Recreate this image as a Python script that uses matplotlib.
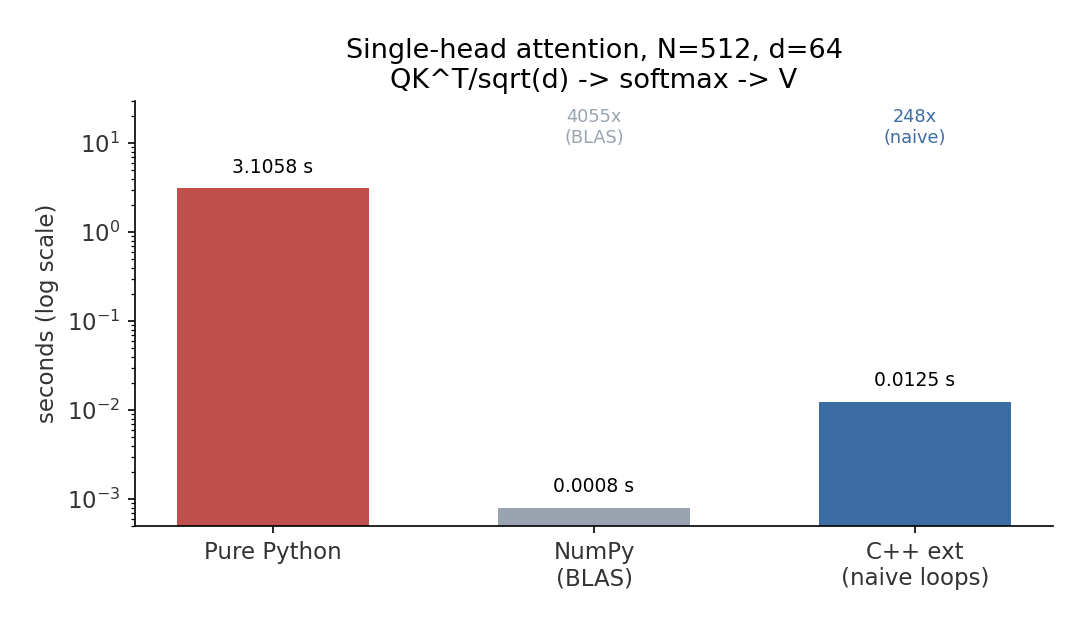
import matplotlib
matplotlib.use("Agg")
import matplotlib.pyplot as plt

labels = ["Pure Python", "NumPy\n(BLAS)", "C++ ext\n(naive loops)"]
seconds = [3.1058, 0.0008, 0.0125]
colors = ["#bf504b", "#99a4b0", "#3b6da3"]
speedup_labels = ["", "4055x\n(BLAS)", "248x\n(naive)"]
speedup_colors = ["", "#99a4b0", "#3b6da3"]

fig, ax = plt.subplots(figsize=(7.2, 4.2), dpi=150)
x = range(len(labels))
ax.bar(x, seconds, width=0.6, color=colors)
ax.set_yscale("log")
ax.set_ylim(5e-4, 30)

for i, s in enumerate(seconds):
    ax.text(i, s * 1.35, f"{s:.4f} s", ha="center", va="bottom", fontsize=9)
for i, (t, c) in enumerate(zip(speedup_labels, speedup_colors)):
    if t:
        ax.text(i, 15, t, ha="center", va="center", fontsize=8.5, color=c)

ax.set_xticks(list(x))
ax.set_xticklabels(labels, fontsize=11, color="#333333")
ax.tick_params(axis="y", labelsize=11, labelcolor="#333333")
ax.set_ylabel("seconds (log scale)", fontsize=11, color="#333333")
ax.set_title("Single-head attention, N=512, d=64\nQK^T/sqrt(d) -> softmax -> V", fontsize=13)
ax.spines["top"].set_visible(False)
ax.spines["right"].set_visible(False)

fig.subplots_adjust(left=0.125, right=0.975, top=0.84, bottom=0.165)
fig.savefig("out.png")
